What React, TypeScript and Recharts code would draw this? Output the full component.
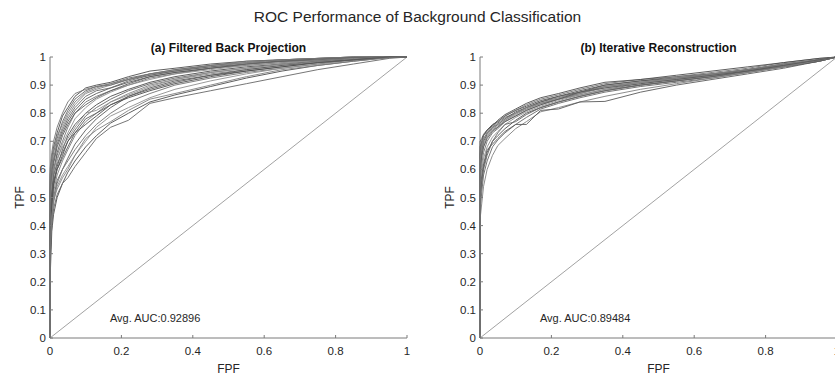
import { LineChart, Line, XAxis, YAxis, ReferenceLine, ReferenceDot } from 'recharts';

const FONT = '"Liberation Sans", Arial, Helvetica, sans-serif';

const X_TICKS = [0, 0.2, 0.4, 0.6, 0.8, 1];
const Y_TICKS = [0, 0.1, 0.2, 0.3, 0.4, 0.5, 0.6, 0.7, 0.8, 0.9, 1];

// false positive fraction sample points shared by every curve
const FPF_GRID = [0, 0, 0.005, 0.01, 0.02, 0.035, 0.05, 0.07, 0.1, 0.13, 0.17, 0.22, 0.28, 0.35, 0.45, 0.55, 0.65, 0.75, 0.85, 0.95, 1];

// (a) filtered back projection, one row per case
const TPF_FBP = [
  [0, 0.58, 0.64, 0.68, 0.73, 0.79, 0.82, 0.86, 0.89, 0.9, 0.91, 0.93, 0.95, 0.96, 0.975, 0.985, 0.99, 0.995, 1, 1, 1],
  [0, 0.55, 0.61, 0.66, 0.71, 0.77, 0.81, 0.85, 0.88, 0.895, 0.905, 0.925, 0.94, 0.955, 0.97, 0.98, 0.99, 0.995, 1, 1, 1],
  [0, 0.5, 0.6, 0.64, 0.7, 0.75, 0.79, 0.83, 0.87, 0.885, 0.9, 0.92, 0.94, 0.95, 0.965, 0.98, 0.985, 0.99, 0.997, 1, 1],
  [0, 0.45, 0.56, 0.62, 0.68, 0.73, 0.77, 0.81, 0.85, 0.87, 0.89, 0.91, 0.93, 0.945, 0.96, 0.975, 0.985, 0.99, 0.997, 1, 1],
  [0, 0.52, 0.57, 0.6, 0.65, 0.7, 0.75, 0.8, 0.84, 0.86, 0.88, 0.9, 0.925, 0.94, 0.96, 0.97, 0.98, 0.99, 0.995, 1, 1],
  [0, 0.4, 0.5, 0.57, 0.63, 0.69, 0.73, 0.78, 0.82, 0.85, 0.875, 0.9, 0.92, 0.94, 0.955, 0.97, 0.98, 0.99, 0.995, 1, 1],
  [0, 0.35, 0.48, 0.55, 0.61, 0.67, 0.72, 0.76, 0.8, 0.83, 0.86, 0.885, 0.91, 0.93, 0.95, 0.965, 0.975, 0.985, 0.995, 1, 1],
  [0, 0.47, 0.53, 0.58, 0.62, 0.66, 0.7, 0.74, 0.79, 0.82, 0.85, 0.88, 0.905, 0.925, 0.945, 0.96, 0.975, 0.985, 0.995, 1, 1],
  [0, 0.3, 0.45, 0.52, 0.58, 0.63, 0.67, 0.72, 0.77, 0.8, 0.84, 0.87, 0.9, 0.92, 0.94, 0.955, 0.97, 0.985, 0.99, 1, 1],
  [0, 0.38, 0.46, 0.5, 0.56, 0.6, 0.64, 0.69, 0.74, 0.78, 0.82, 0.86, 0.885, 0.91, 0.935, 0.95, 0.965, 0.98, 0.99, 1, 1],
  [0, 0.25, 0.42, 0.48, 0.55, 0.6, 0.63, 0.67, 0.72, 0.76, 0.8, 0.84, 0.87, 0.9, 0.925, 0.945, 0.96, 0.975, 0.99, 0.998, 1],
  [0, 0.33, 0.44, 0.5, 0.54, 0.58, 0.61, 0.65, 0.7, 0.75, 0.79, 0.82, 0.855, 0.885, 0.915, 0.94, 0.96, 0.975, 0.99, 0.998, 1],
  [0, 0.2, 0.38, 0.44, 0.5, 0.55, 0.59, 0.63, 0.68, 0.72, 0.765, 0.8, 0.84, 0.865, 0.895, 0.925, 0.95, 0.97, 0.985, 0.998, 1],
  [0, 0.28, 0.4, 0.46, 0.51, 0.55, 0.57, 0.61, 0.66, 0.71, 0.75, 0.775, 0.835, 0.855, 0.88, 0.905, 0.93, 0.955, 0.975, 0.995, 1],
  [0, 0.56, 0.63, 0.67, 0.72, 0.76, 0.8, 0.84, 0.875, 0.89, 0.905, 0.92, 0.935, 0.95, 0.97, 0.98, 0.99, 0.995, 1, 1, 1],
  [0, 0.42, 0.52, 0.59, 0.66, 0.72, 0.76, 0.8, 0.83, 0.855, 0.88, 0.905, 0.93, 0.945, 0.96, 0.975, 0.985, 0.993, 0.998, 1, 1],
  [0, 0.6, 0.66, 0.7, 0.75, 0.8, 0.84, 0.87, 0.885, 0.895, 0.9, 0.92, 0.94, 0.955, 0.97, 0.985, 0.99, 0.995, 1, 1, 1],
  [0, 0.48, 0.55, 0.6, 0.64, 0.68, 0.71, 0.75, 0.8, 0.81, 0.84, 0.865, 0.895, 0.92, 0.945, 0.96, 0.975, 0.99, 0.995, 1, 1],
  [0, 0.36, 0.47, 0.54, 0.6, 0.65, 0.7, 0.73, 0.76, 0.79, 0.83, 0.855, 0.88, 0.905, 0.93, 0.95, 0.965, 0.98, 0.99, 1, 1],
  [0, 0.53, 0.59, 0.63, 0.69, 0.74, 0.78, 0.82, 0.86, 0.88, 0.89, 0.915, 0.935, 0.95, 0.965, 0.975, 0.985, 0.99, 0.998, 1, 1],
  [0, 0.3, 0.43, 0.49, 0.53, 0.57, 0.6, 0.65, 0.71, 0.74, 0.77, 0.81, 0.85, 0.87, 0.9, 0.93, 0.955, 0.97, 0.985, 0.998, 1],
  [0, 0.44, 0.51, 0.56, 0.6, 0.64, 0.68, 0.73, 0.78, 0.8, 0.83, 0.86, 0.89, 0.915, 0.935, 0.955, 0.97, 0.98, 0.99, 1, 1],
];

// (b) iterative reconstruction
const TPF_IR = [
  [0, 0.68, 0.7, 0.72, 0.74, 0.76, 0.77, 0.79, 0.81, 0.825, 0.845, 0.86, 0.88, 0.9, 0.915, 0.925, 0.94, 0.955, 0.975, 0.99, 1],
  [0, 0.65, 0.69, 0.71, 0.73, 0.75, 0.765, 0.785, 0.8, 0.82, 0.84, 0.855, 0.875, 0.895, 0.91, 0.925, 0.935, 0.955, 0.97, 0.99, 1],
  [0, 0.6, 0.66, 0.69, 0.72, 0.74, 0.755, 0.775, 0.795, 0.815, 0.835, 0.85, 0.87, 0.89, 0.91, 0.92, 0.935, 0.95, 0.97, 0.99, 1],
  [0, 0.62, 0.67, 0.7, 0.725, 0.745, 0.76, 0.78, 0.805, 0.82, 0.84, 0.86, 0.875, 0.9, 0.915, 0.93, 0.94, 0.955, 0.975, 0.99, 1],
  [0, 0.55, 0.62, 0.66, 0.7, 0.73, 0.745, 0.77, 0.79, 0.81, 0.83, 0.85, 0.865, 0.885, 0.905, 0.92, 0.935, 0.95, 0.97, 0.99, 1],
  [0, 0.57, 0.6, 0.64, 0.68, 0.715, 0.735, 0.76, 0.785, 0.805, 0.825, 0.845, 0.865, 0.885, 0.9, 0.915, 0.93, 0.945, 0.965, 0.985, 1],
  [0, 0.5, 0.56, 0.61, 0.66, 0.7, 0.72, 0.745, 0.775, 0.8, 0.82, 0.84, 0.86, 0.88, 0.9, 0.915, 0.93, 0.95, 0.965, 0.985, 1],
  [0, 0.45, 0.52, 0.58, 0.63, 0.68, 0.705, 0.73, 0.76, 0.785, 0.815, 0.835, 0.855, 0.875, 0.895, 0.91, 0.925, 0.945, 0.965, 0.985, 1],
  [0, 0.42, 0.48, 0.54, 0.6, 0.65, 0.685, 0.71, 0.745, 0.77, 0.805, 0.82, 0.84, 0.86, 0.885, 0.905, 0.925, 0.945, 0.965, 0.985, 1],
  [0, 0.52, 0.58, 0.62, 0.67, 0.69, 0.71, 0.735, 0.76, 0.76, 0.81, 0.815, 0.84, 0.842, 0.875, 0.9, 0.92, 0.94, 0.96, 0.985, 1],
  [0, 0.66, 0.7, 0.72, 0.735, 0.755, 0.77, 0.79, 0.81, 0.83, 0.85, 0.865, 0.885, 0.905, 0.92, 0.93, 0.945, 0.96, 0.98, 0.995, 1],
  [0, 0.58, 0.64, 0.68, 0.715, 0.74, 0.75, 0.775, 0.8, 0.815, 0.835, 0.855, 0.87, 0.895, 0.91, 0.92, 0.935, 0.95, 0.97, 0.99, 1],
  [0, 0.7, 0.71, 0.725, 0.74, 0.755, 0.775, 0.795, 0.815, 0.835, 0.855, 0.87, 0.89, 0.91, 0.92, 0.935, 0.95, 0.965, 0.98, 0.995, 1],
  [0, 0.48, 0.55, 0.6, 0.65, 0.7, 0.73, 0.76, 0.77, 0.795, 0.82, 0.84, 0.86, 0.88, 0.9, 0.915, 0.93, 0.95, 0.97, 0.99, 1],
  [0, 0.63, 0.68, 0.705, 0.73, 0.75, 0.76, 0.78, 0.8, 0.82, 0.835, 0.85, 0.87, 0.895, 0.91, 0.925, 0.94, 0.955, 0.975, 0.99, 1],
  [0, 0.59, 0.65, 0.68, 0.71, 0.735, 0.75, 0.77, 0.79, 0.81, 0.83, 0.85, 0.875, 0.89, 0.905, 0.92, 0.935, 0.95, 0.97, 0.99, 1],
];

const AUC_FBP = '0.92896';
const AUC_IR = '0.89484';

const CURVE_COLORS = ['#4d4d4d', '#666666', '#808080', '#5a5a5a', '#737373', '#8f8f8f'];
const AXIS_COLOR = '#7a7a7a';
const TEXT_COLOR = '#262626';

type PanelProps = {
  title: string;
  curves: number[][];
  auc: string;
  left: number;
  yAxisWidth: number;
  rightMargin: number;
};

function RocPanel({ title, curves, auc, left, yAxisWidth, rightMargin }: PanelProps) {
  const width = 420;
  const plotLeft = left + yAxisWidth;
  const plotRight = left + width - rightMargin;
  return (
    <>
      <div
        style={{
          position: 'absolute',
          left: plotLeft,
          width: plotRight - plotLeft,
          top: 42,
          textAlign: 'center',
          fontSize: 12,
          lineHeight: '12px',
          fontWeight: 'bold',
          color: '#111',
        }}
      >
        {title}
      </div>
      <div style={{ position: 'absolute', left, top: 0 }}>
        <LineChart width={width} height={378} margin={{ top: 57, right: rightMargin, bottom: 0, left: 0 }}>
          <XAxis
            dataKey="fpf"
            type="number"
            domain={[0, 1]}
            ticks={X_TICKS}
            height={40}
            stroke={AXIS_COLOR}
            tickSize={-3}
            tickMargin={12}
            tick={{ fill: TEXT_COLOR, fontSize: 11.5, fontFamily: FONT }}
            label={{ value: 'FPF', position: 'insideBottom', offset: 5, fill: TEXT_COLOR, fontSize: 12, fontFamily: FONT }}
          />
          <YAxis
            type="number"
            domain={[0, 1]}
            ticks={Y_TICKS}
            width={yAxisWidth}
            stroke={AXIS_COLOR}
            tickSize={-3}
            tickMargin={7}
            tick={{ fill: TEXT_COLOR, fontSize: 11.5, fontFamily: FONT }}
            label={{
              value: 'TPF',
              angle: -90,
              position: 'insideLeft',
              offset: yAxisWidth - 30,
              fill: TEXT_COLOR,
              fontSize: 12,
              fontFamily: FONT,
              style: { textAnchor: 'middle' },
            }}
          />
          <ReferenceLine
            segment={[{ x: 0, y: 0 }, { x: 1, y: 1 }]}
            stroke="#8a8a8a"
            strokeWidth={0.8}
          />
          {curves.map((tpf, i) => (
            <Line
              key={`curve-${i}`}
              data={FPF_GRID.map((fpf, j) => ({ fpf, tpf: tpf[j] }))}
              dataKey="tpf"
              type="linear"
              stroke={CURVE_COLORS[i % CURVE_COLORS.length]}
              strokeWidth={0.9}
              dot={false}
              activeDot={false}
              isAnimationActive={false}
            />
          ))}
          <ReferenceDot
            x={0.168}
            y={0.071}
            r={0}
            fill="none"
            stroke="none"
            label={{ value: `Avg. AUC:${auc}`, position: 'right', offset: 0, fill: TEXT_COLOR, fontSize: 11, fontFamily: FONT }}
          />
        </LineChart>
      </div>
    </>
  );
}

export default function App() {
  return (
    <div
      style={{
        position: 'fixed',
        left: 0,
        top: 0,
        width: 835,
        height: 378,
        overflow: 'hidden',
        background: '#ffffff',
        fontFamily: FONT,
      }}
    >
      <div
        style={{
          position: 'absolute',
          left: 0,
          width: 835,
          top: 9,
          textAlign: 'center',
          fontSize: 15.5,
          lineHeight: '16px',
          color: TEXT_COLOR,
        }}
      >
        ROC Performance of Background Classification
      </div>
      <RocPanel title="(a) Filtered Back Projection" curves={TPF_FBP} auc={AUC_FBP} left={0} yAxisWidth={50} rightMargin={13} />
      <RocPanel title="(b) Iterative Reconstruction" curves={TPF_IR} auc={AUC_IR} left={420} yAxisWidth={60} rightMargin={3} />
    </div>
  );
}
